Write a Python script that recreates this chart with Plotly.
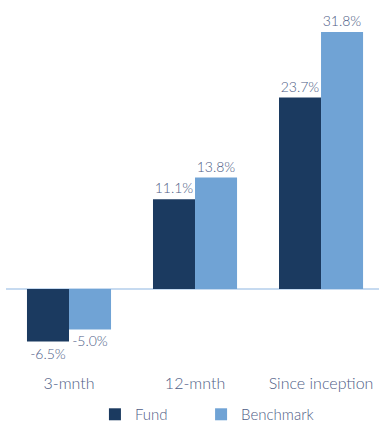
import plotly.graph_objects as go

categories = ["3-mnth", "12-mnth", "Since inception"]
fund = [-6.5, 11.1, 23.7]
benchmark = [-5.0, 13.8, 31.8]

fund_color = "#1b3a60"
bench_color = "#70a3d5"
text_color = "#4e5d86"
font_family = "Lato, 'Open Sans', sans-serif"

fig = go.Figure()
fig.add_trace(go.Bar(
    name="Fund" + "\u00a0" * 7, x=categories, y=fund, marker_color=fund_color,
    marker_line_width=0,
    text=[f"{v:.1f}%" for v in fund], textposition="outside",
    textfont=dict(size=14, color=text_color, weight=300), cliponaxis=False,
))
fig.add_trace(go.Bar(
    name="Benchmark", x=categories, y=benchmark, marker_color=bench_color,
    marker_line_width=0,
    text=[f"{v:.1f}%" for v in benchmark], textposition="outside",
    textfont=dict(size=14, color=text_color, weight=300), cliponaxis=False,
))

fig.update_layout(
    width=379, height=423,
    margin=dict(l=6, r=0, t=0, b=51),
    paper_bgcolor="white", plot_bgcolor="white",
    barmode="group", bargap=0.333, bargroupgap=0,
    font=dict(family=font_family, color=text_color, size=14, weight=300),
    showlegend=True,
    legend=dict(orientation="h", xref="container", yref="container",
                x=0.546, xanchor="center", y=0.02, yanchor="middle",
                font=dict(size=15, color=text_color, weight=300),
                traceorder="normal", itemwidth=30),
)
fig.update_xaxes(range=[-0.5, 2.46], showgrid=False, showline=False,
                 ticks="", tickfont=dict(size=16, color=text_color, weight=300))
fig.update_yaxes(range=[-10.27, 35.77], showgrid=False, showticklabels=False,
                 zeroline=True, zerolinecolor="#c6daf0", zerolinewidth=2,
                 showline=False)

fig.write_html("out.html")
